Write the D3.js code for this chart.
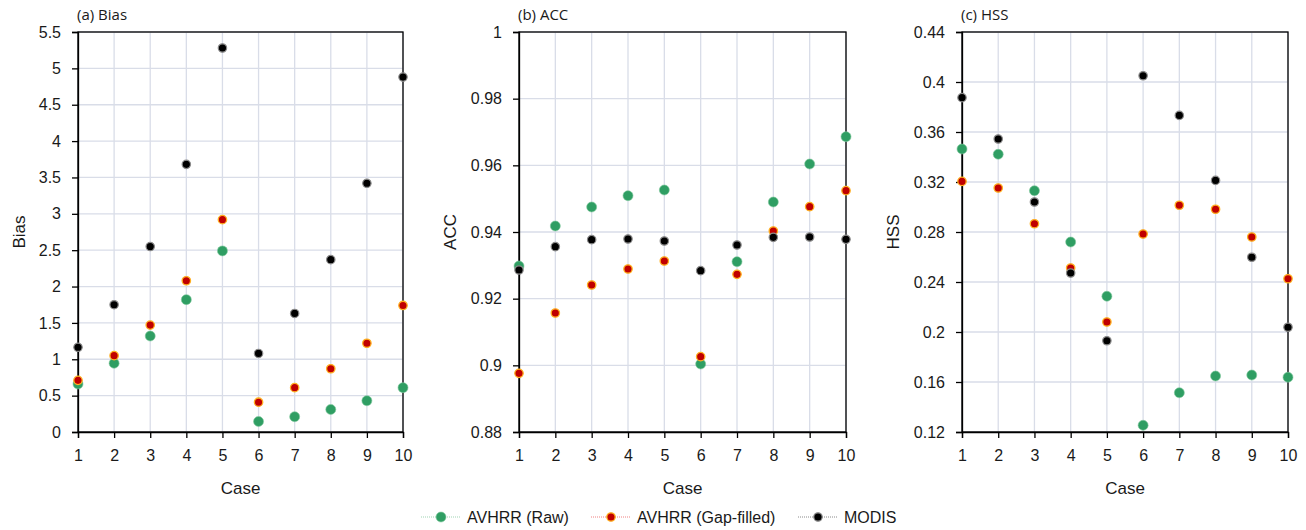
<!DOCTYPE html>
<html><head><meta charset="utf-8">
<script src="https://cdn.jsdelivr.net/npm/d3@7"></script>
<style>body{margin:0;background:#fff}svg{display:block}</style>
</head><body><svg id="c" width="1306" height="530"></svg>
<script>
const cases = [1,2,3,4,5,6,7,8,9,10];
const seriesNames = ["AVHRR (Raw)", "AVHRR (Gap-filled)", "MODIS"];
const biasRaw = [0.66,0.945,1.32,1.82,2.49,0.145,0.21,0.31,0.43,0.61];
const biasGap = [0.71,1.05,1.47,2.08,2.92,0.41,0.61,0.87,1.22,1.74];
const biasModis = [1.165,1.75,2.55,3.68,5.28,1.08,1.63,2.37,3.42,4.88];
const accRaw = [0.9298,0.9418,0.9475,0.9509,0.9526,0.9004,0.9311,0.949,0.9604,0.9686];
const accGap = [0.8976,0.9157,0.9241,0.9289,0.9313,0.9026,0.9273,0.9403,0.9476,0.9524];
const accModis = [0.9286,0.9356,0.9377,0.9379,0.9373,0.9284,0.9361,0.9384,0.9385,0.9378];
const hssRaw = [0.3464,0.3422,0.313,0.272,0.2286,0.1254,0.1514,0.1648,0.1656,0.1638];
const hssGap = [0.3205,0.3152,0.2866,0.2512,0.208,0.2784,0.3014,0.2982,0.276,0.2426];
const hssModis = [0.3875,0.3544,0.304,0.2472,0.193,0.405,0.3733,0.3213,0.2598,0.2038];
const biasTicks = [0,0.5,1,1.5,2,2.5,3,3.5,4,4.5,5,5.5];
const accTicks = [0.88,0.9,0.92,0.94,0.96,0.98,1];
const hssTicks = [0.12,0.16,0.2,0.24,0.28,0.32,0.36,0.4,0.44];

const panels = [
  {title:"(a) Bias", ylab:"Bias", x0:78, x1:403, ylabX:19, dom:[0,5.5], ticks:biasTicks, fmt:d=>String(d), data:[biasRaw,biasGap,biasModis]},
  {title:"(b) ACC", ylab:"ACC", x0:519, x1:846, ylabX:450, dom:[0.88,1], ticks:accTicks, fmt:d=>String(+d.toFixed(2)), data:[accRaw,accGap,accModis]},
  {title:"(c) HSS", ylab:"HSS", x0:962, x1:1288, ylabX:893, dom:[0.12,0.44], ticks:hssTicks, fmt:d=>String(+d.toFixed(2)), data:[hssRaw,hssGap,hssModis]}
];
const plotTop = 32, plotBottom = 432;
const styles = [
  {r:5, fill:"#2f9e63", stroke:"#7fc79c", sw:0.6, line:"#9fd3b3"},
  {r:4.2, fill:"#c00000", stroke:"#ffb020", sw:1.3, line:"#f08080"},
  {r:4.2, fill:"#000000", stroke:"#8a8a8a", sw:1.2, line:"#8a8a8a"}
];
const svg = d3.select("#c");
const font = "'Liberation Sans', Arial, sans-serif";

panels.forEach(p => {
  const x = d3.scaleLinear().domain([1,10]).range([p.x0,p.x1]);
  const y = d3.scaleLinear().domain(p.dom).range([plotBottom,plotTop]);
  const g = svg.append("g");
  g.selectAll(".hg").data(p.ticks).join("line")
    .attr("x1",p.x0).attr("x2",p.x1).attr("y1",d=>y(d)).attr("y2",d=>y(d))
    .attr("stroke","#d9dde8").attr("stroke-width",1.3);
  g.selectAll(".vg").data(cases).join("line")
    .attr("x1",d=>x(d)).attr("x2",d=>x(d)).attr("y1",plotTop).attr("y2",plotBottom)
    .attr("stroke","#d9dde8").attr("stroke-width",1.3);
  g.append("rect").attr("x",p.x0).attr("y",plotTop).attr("width",p.x1-p.x0).attr("height",plotBottom-plotTop)
    .attr("fill","none").attr("stroke","#000").attr("stroke-width",1.3);
  const ya = d3.axisLeft(y).tickValues(p.ticks).tickFormat(p.fmt).tickSize(6).tickPadding(11);
  const yg = g.append("g").attr("transform",`translate(${p.x0},0)`).call(ya);
  const xa = d3.axisBottom(x).tickValues(cases).tickFormat(d=>d).tickSize(6).tickPadding(12);
  const xg = g.append("g").attr("transform",`translate(0,${plotBottom})`).call(xa);
  [yg,xg].forEach(a=>{
    a.select(".domain").attr("stroke","#000").attr("stroke-width",1.3);
    a.selectAll(".tick line").attr("stroke","#000").attr("stroke-width",1.3);
    a.selectAll("text").attr("font-family",font).attr("font-size",16).attr("fill","#1a1a1a");
  });
  g.append("text").attr("x",p.x0-1).attr("y",20).text(p.title)
    .attr("font-family","'Open Sans', 'Liberation Sans', sans-serif").attr("font-size",15).attr("fill","#1a1a1a");
  g.append("text").attr("transform",`translate(${p.ylabX+6},${(plotTop+plotBottom)/2}) rotate(-90)`)
    .attr("text-anchor","middle").text(p.ylab)
    .attr("font-family",font).attr("font-size",17).attr("fill","#1a1a1a");
  g.append("text").attr("x",(p.x0+p.x1)/2).attr("y",494).attr("text-anchor","middle").text("Case")
    .attr("font-family",font).attr("font-size",17).attr("fill","#1a1a1a");
  p.data.forEach((vals,si)=>{
    const s = styles[si];
    g.selectAll(".pt"+si).data(vals).join("circle")
      .attr("cx",(d,i)=>x(cases[i])).attr("cy",d=>y(d)).attr("r",s.r)
      .attr("fill",s.fill).attr("stroke",s.stroke).attr("stroke-width",s.sw);
  });
});

const legX = [421, 591, 798];
const lg = svg.append("g");
seriesNames.forEach((n,i)=>{
  const s = styles[i];
  const x0 = legX[i];
  lg.append("line").attr("x1",x0).attr("x2",x0+40).attr("y1",517).attr("y2",517)
    .attr("stroke",s.line).attr("stroke-width",1).attr("stroke-dasharray","1,1");
  lg.append("circle").attr("cx",x0+20).attr("cy",517).attr("r",s.r)
    .attr("fill",s.fill).attr("stroke",s.stroke).attr("stroke-width",s.sw);
  lg.append("text").attr("x",x0+46).attr("y",523).text(n)
    .attr("font-family",font).attr("font-size",16).attr("fill","#1a1a1a");
});
</script></body></html>
